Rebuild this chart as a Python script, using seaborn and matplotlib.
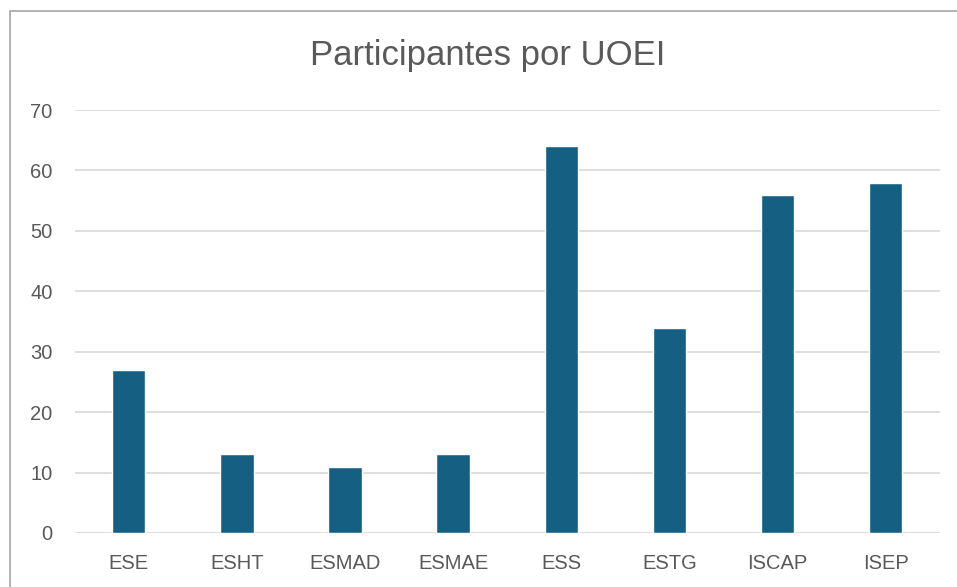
import matplotlib
matplotlib.use("Agg")
import matplotlib.pyplot as plt
import pandas as pd
import seaborn as sns
from matplotlib.patches import Rectangle

# data
schools = ["ESE", "ESHT", "ESMAD", "ESMAE", "ESS", "ESTG", "ISCAP", "ISEP"]
participants = [27, 13, 11, 13, 64, 34, 56, 58]
y_ticks = [0, 10, 20, 30, 40, 50, 60, 70]

df = pd.DataFrame({"school": schools, "participants": participants})

sns.set_theme(style="white")
plt.rcParams["font.family"] = ["Liberation Sans", "DejaVu Sans"]

fig = plt.figure(figsize=(9.57, 5.87), dpi=100)
ax = fig.add_axes([0.078, 0.092, 0.904, 0.7206])

sns.barplot(data=df, x="school", y="participants", color="#156082",
            width=0.31, saturation=1, ax=ax, zorder=3)

ax.set_ylim(0, 70)
ax.set_yticks(y_ticks)
ax.yaxis.grid(True, color="#d9d9d9", linewidth=1.2, zorder=0)
ax.set_axisbelow(True)
for s in ax.spines.values():
    s.set_visible(False)
ax.set_xlabel("")
ax.set_ylabel("")
ax.tick_params(axis="both", length=0, labelsize=14.5, labelcolor="#595959")
ax.tick_params(axis="y", pad=16)
ax.tick_params(axis="x", pad=15)

fig.text(0.51, 0.905, "Participantes por UOEI", ha="center", va="center",
         fontsize=25, color="#595959")

# outer chart border
fig.patches.append(Rectangle((10 / 957, -0.05), 1.1, 1 - 11 / 587 + 0.05,
                             transform=fig.transFigure, fill=False,
                             edgecolor="#a6a6a6", linewidth=1.2))

fig.savefig("out.png", dpi=100)
